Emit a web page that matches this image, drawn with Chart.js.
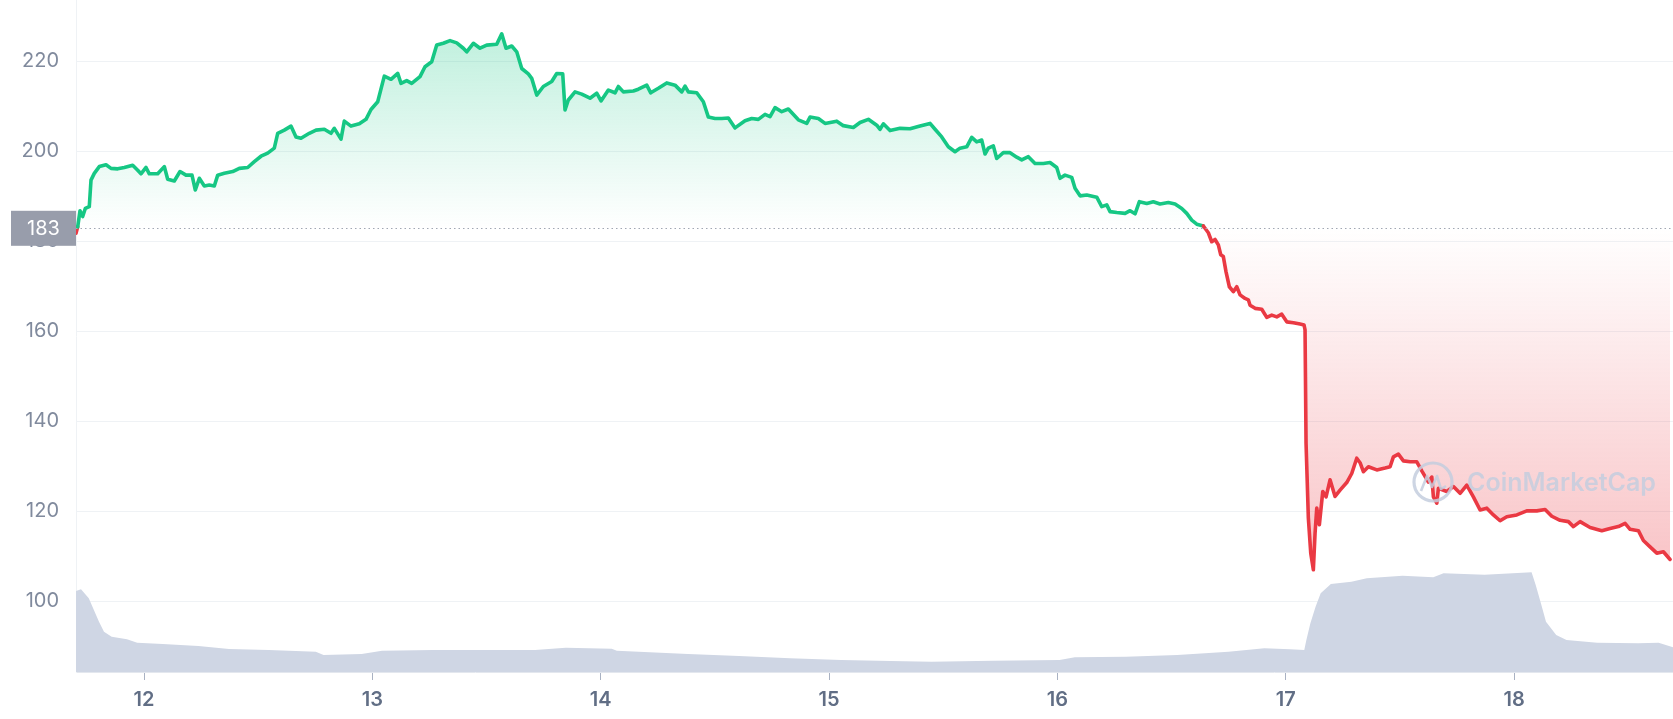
<!DOCTYPE html>
<html>
<head>
<meta charset="utf-8">
<script src="https://cdn.jsdelivr.net/npm/chart.js@4/dist/chart.umd.min.js"></script>
<style>
  html, body { margin: 0; padding: 0; background: #fff; }
  #wrap { width: 1673px; height: 719px; }
</style>
</head>
<body>
<div id="wrap"><canvas id="price" width="1673" height="719"></canvas></div>
<script>
// price, day of month (fractional) and USD
const priceDays = [
  11.7022, 11.7096, 11.7197, 11.7315, 11.7429, 11.7604, 11.7679, 11.7823, 11.8042, 11.8336,
  11.8555, 11.8848, 11.9137, 11.9505, 11.9724, 11.9869, 12.0088, 12.0232, 12.0600, 12.0889,
  12.1038, 12.1327, 12.1577, 12.1839, 12.2102, 12.2247, 12.2422, 12.2641, 12.2860, 12.3079,
  12.3228, 12.3517, 12.3885, 12.4174, 12.4542, 12.4831, 12.5124, 12.5417, 12.5706, 12.5855,
  12.6144, 12.6437, 12.6656, 12.6876, 12.7239, 12.7533, 12.7896, 12.8190, 12.8334, 12.8627,
  12.8772, 12.9065, 12.9429, 12.9722, 12.9941, 13.0235, 13.0524, 13.0817, 13.1111, 13.1255,
  13.1505, 13.1724, 13.2087, 13.2306, 13.2600, 13.2819, 13.3108, 13.3402, 13.3695, 13.3984,
  13.4133, 13.4422, 13.4715, 13.5009, 13.5447, 13.5666, 13.5854, 13.6104, 13.6323, 13.6542,
  13.6831, 13.6980, 13.7199, 13.7488, 13.7856, 13.8075, 13.8337, 13.8438, 13.8583, 13.8876,
  13.9170, 13.9533, 13.9827, 14.0015, 14.0335, 14.0628, 14.0773, 14.0992, 14.1430, 14.1649,
  14.2017, 14.2192, 14.2525, 14.2893, 14.3256, 14.3550, 14.3694, 14.3839, 14.4207, 14.4496,
  14.4715, 14.5008, 14.5301, 14.5590, 14.5884, 14.6321, 14.6615, 14.6904, 14.7197, 14.7416,
  14.7635, 14.7929, 14.8218, 14.8656, 14.9024, 14.9168, 14.9532, 14.9825, 15.0337, 15.0626,
  15.1064, 15.1358, 15.1721, 15.2089, 15.2233, 15.2378, 15.2671, 15.3109, 15.3547, 15.3985,
  15.4423, 15.4642, 15.4935, 15.5224, 15.5517, 15.5737, 15.6030, 15.6249, 15.6468, 15.6687,
  15.6832, 15.6976, 15.7195, 15.7344, 15.7633, 15.7927, 15.8220, 15.8439, 15.8728, 15.9021,
  15.9385, 15.9678, 15.9972, 16.0116, 16.0335, 16.0629, 16.0773, 16.0992, 16.1286, 16.1724,
  16.1943, 16.2162, 16.2307, 16.2600, 16.2964, 16.3183, 16.3402, 16.3591, 16.3913, 16.4202,
  16.4496, 16.4859, 16.5153, 16.5446, 16.5665, 16.5884, 16.6103, 16.6392, 16.6611, 16.6760,
  16.6905, 16.7049, 16.7154, 16.7268, 16.7386, 16.7531, 16.7706, 16.7855, 16.8000, 16.8219,
  16.8363, 16.8438, 16.8657, 16.8950, 16.9169, 16.9388, 16.9607, 16.9826, 17.0045, 17.0334,
  17.0627, 17.0803, 17.0846, 17.0890, 17.0991, 17.1096, 17.1210, 17.1284, 17.1359, 17.1473,
  17.1622, 17.1766, 17.1941, 17.2160, 17.2379, 17.2672, 17.2891, 17.3110, 17.3255, 17.3401,
  17.3620, 17.3988, 17.4351, 17.4570, 17.4715, 17.4934, 17.5153, 17.5446, 17.5740, 17.5959,
  17.6248, 17.6397, 17.6467, 17.6616, 17.6686, 17.7054, 17.7343, 17.7636, 17.7929, 17.8218,
  17.8512, 17.8805, 17.9094, 17.9387, 17.9681, 18.0119, 18.0557, 18.0995, 18.1358, 18.1652,
  18.2015, 18.2379, 18.2598, 18.2891, 18.3329, 18.3841, 18.4205, 18.4568, 18.4862, 18.5081,
  18.5444, 18.5663, 18.5957, 18.6250, 18.6539, 18.6833
];
const prices = [
  181.8, 183.2, 186.8, 185.5, 187.3, 187.7, 193.6, 195.1, 196.6, 197.0,
  196.2, 196.1, 196.4, 196.9, 195.8, 195.0, 196.4, 195.0, 195.0, 196.6,
  193.8, 193.4, 195.5, 194.7, 194.7, 191.4, 194.0, 192.3, 192.5, 192.3,
  194.7, 195.1, 195.5, 196.2, 196.4, 197.7, 198.9, 199.6, 200.7, 204.0,
  204.7, 205.6, 203.2, 202.9, 204.0, 204.7, 204.9, 204.0, 205.1, 202.7,
  206.7, 205.6, 206.1, 207.1, 209.3, 211.0, 216.7, 216.0, 217.3, 215.1,
  215.7, 215.1, 216.6, 218.8, 219.9, 223.6, 224.0, 224.6, 224.1, 222.9,
  222.1, 224.0, 222.9, 223.6, 223.8, 226.1, 222.9, 223.4, 222.1, 218.4,
  217.2, 216.2, 212.5, 214.4, 215.5, 217.3, 217.2, 209.2, 211.4, 213.2,
  212.7, 211.8, 212.9, 211.2, 213.6, 213.0, 214.4, 213.2, 213.4, 213.8,
  214.7, 213.0, 214.0, 215.2, 214.7, 213.2, 214.5, 213.2, 213.0, 211.0,
  207.6, 207.3, 207.3, 207.4, 205.2, 206.8, 207.3, 207.1, 208.2, 207.7,
  209.7, 208.8, 209.4, 207.0, 206.2, 207.6, 207.3, 206.2, 206.7, 205.7,
  205.3, 206.4, 207.1, 205.8, 204.9, 206.1, 204.6, 205.1, 205.0, 205.6,
  206.2, 204.9, 203.2, 201.0, 199.9, 200.7, 201.0, 203.1, 202.1, 202.5,
  199.4, 200.7, 201.2, 198.4, 199.7, 199.7, 198.7, 198.1, 198.8, 197.3,
  197.3, 197.5, 196.4, 194.0, 194.7, 194.2, 191.8, 190.1, 190.3, 189.8,
  187.7, 188.1, 186.6, 186.4, 186.2, 186.8, 186.1, 188.8, 188.4, 188.8,
  188.3, 188.6, 188.3, 187.3, 186.2, 184.7, 183.8, 183.4, 181.9, 179.9,
  180.4, 179.2, 177.0, 176.6, 173.2, 169.9, 168.8, 169.9, 168.1, 167.3,
  167.0, 165.8, 165.1, 164.9, 163.1, 163.6, 163.2, 163.8, 162.1, 161.9,
  161.6, 161.4, 160.3, 135.1, 118.5, 110.7, 107.0, 115.1, 120.7, 117.0,
  124.4, 123.2, 127.0, 123.3, 124.7, 126.4, 128.4, 131.8, 130.8, 128.8,
  129.9, 129.2, 129.6, 129.9, 132.1, 132.7, 131.2, 131.0, 131.0, 129.0,
  126.5, 127.6, 123.2, 121.8, 125.1, 124.4, 125.5, 124.0, 125.8, 123.2,
  120.3, 120.7, 119.2, 117.9, 118.8, 119.2, 120.1, 120.1, 120.4, 118.9,
  118.0, 117.7, 116.6, 117.7, 116.4, 115.7, 116.2, 116.6, 117.3, 116.0,
  115.7, 113.5, 112.1, 110.7, 111.0, 109.3
];

// volume, million USD
const volumeDays = [
  11.7022, 11.7241, 11.7582, 11.7805, 11.8029, 11.8248, 11.8585, 11.9255, 11.9702, 12.0819,
  12.2382, 12.3722, 12.5456, 12.7524, 12.7862, 12.9534, 13.0423, 13.2657, 13.4890, 13.7124,
  13.8473, 14.0483, 14.0706, 14.3825, 14.6058, 14.8292, 15.0526, 15.2694, 15.4485, 15.7178,
  16.0096, 16.0766, 16.2998, 16.5250, 16.7493, 16.9065, 17.0186, 17.0812, 17.0904, 17.1080,
  17.1307, 17.1531, 17.1977, 17.2875, 17.3550, 17.5118, 17.6462, 17.6913, 17.8705, 18.0767,
  18.0947, 18.1175, 18.1398, 18.1845, 18.2296, 18.3641, 18.5432, 18.6330, 18.6963
];
const volumes = [
  810, 827, 737, 620, 503, 403, 353, 327, 293, 280,
  260, 230, 220, 203, 170, 180, 213, 220, 220, 220,
  243, 233, 213, 180, 160, 137, 120, 110, 103, 113,
  120, 147, 153, 170, 203, 237, 227, 220, 320, 487,
  653, 787, 880, 903, 937, 963, 947, 987, 973, 997,
  870, 687, 503, 370, 320, 293, 287, 293, 247
];

const openPrice = 183;
const dayTicks = [12, 13, 14, 15, 16, 17, 18];
const priceTicks = [100, 120, 140, 160, 180, 200, 220];

const green = '#16c784';
const red = '#ea3943';

const pricePoints = priceDays.map((d, i) => ({ x: d, y: prices[i] }));
const volumePoints = volumeDays.map((d, i) => ({ x: d, y: volumes[i] }));

function fillGradient(ctx) {
  const chart = ctx.chart;
  const area = chart.chartArea;
  if (!area) return 'transparent';
  const y = chart.scales.y;
  const h = area.bottom - area.top;
  const f = v => Math.min(1, Math.max(0, (y.getPixelForValue(v) - area.top) / h));
  const g = chart.ctx.createLinearGradient(0, area.top, 0, area.bottom);
  g.addColorStop(0, 'rgba(22,199,132,0.30)');
  g.addColorStop(f(226), 'rgba(22,199,132,0.27)');
  g.addColorStop(f(openPrice), 'rgba(22,199,132,0.0)');
  g.addColorStop(f(openPrice), 'rgba(234,57,67,0.0)');
  g.addColorStop(f(107), 'rgba(234,57,67,0.30)');
  g.addColorStop(1, 'rgba(234,57,67,0.30)');
  return g;
}

const overlay = {
  id: 'overlay',
  afterDatasetsDraw(chart) {
    const { ctx, chartArea, scales } = chart;
    const py = Math.round(scales.y.getPixelForValue(openPrice)) + 0.5;
    ctx.save();
    ctx.strokeStyle = '#a1a7b3';
    ctx.lineWidth = 1;
    ctx.setLineDash([1.5, 3]);
    ctx.beginPath();
    ctx.moveTo(chartArea.left, py);
    ctx.lineTo(chartArea.right, py);
    ctx.stroke();
    ctx.setLineDash([]);

    // watermark
    const cx = 1433, cy = 482;
    ctx.strokeStyle = 'rgba(196,206,222,0.85)';
    ctx.fillStyle = 'rgba(196,206,222,0.85)';
    ctx.lineWidth = 3.2;
    ctx.beginPath();
    ctx.arc(cx, cy, 19, 0, Math.PI * 2);
    ctx.stroke();
    ctx.lineWidth = 2.6;
    ctx.lineJoin = 'round';
    ctx.beginPath();
    ctx.moveTo(cx - 12, cy + 9);
    ctx.lineTo(cx - 6, cy - 6);
    ctx.lineTo(cx - 1, cy + 5);
    ctx.lineTo(cx + 4, cy - 6);
    ctx.lineTo(cx + 8, cy + 7);
    ctx.lineTo(cx + 13, cy + 4);
    ctx.stroke();
    ctx.font = '600 25px Inter';
    ctx.textBaseline = 'middle';
    ctx.textAlign = 'left';
    ctx.fillText('CoinMarketCap', cx + 34, cy + 1);
    ctx.restore();
  },
  afterDraw(chart) {
    const { ctx, chartArea, scales } = chart;
    const py = scales.y.getPixelForValue(openPrice);
    ctx.save();
    ctx.fillStyle = '#989dab';
    ctx.fillRect(11, py - 17, chartArea.left - 11, 35);
    ctx.fillStyle = '#ffffff';
    ctx.font = '20px Inter';
    ctx.textAlign = 'center';
    ctx.textBaseline = 'middle';
    ctx.fillText(String(openPrice), (11 + chartArea.left) / 2, py + 1);
    ctx.restore();
  }
};

new Chart(document.getElementById('price'), {
  type: 'line',
  data: {
    datasets: [{
      data: pricePoints,
      yAxisID: 'y',
      order: 0,
      borderWidth: 3.6,
      borderColor: green,
      borderJoinStyle: 'round',
      borderCapStyle: 'round',
      pointRadius: 0,
      tension: 0,
      fill: { value: openPrice },
      backgroundColor: fillGradient,
      segment: {
        borderColor: c => ((c.p0.parsed.y + c.p1.parsed.y) / 2 >= openPrice ? green : red)
      }
    }, {
      data: volumePoints,
      yAxisID: 'yVol',
      order: 1,
      borderWidth: 0,
      pointRadius: 0,
      tension: 0,
      fill: 'origin',
      backgroundColor: '#cfd6e4'
    }]
  },
  options: {
    responsive: false,
    animation: false,
    layout: { padding: 0 },
    plugins: {
      legend: { display: false },
      tooltip: { enabled: false }
    },
    scales: {
      x: {
        type: 'linear',
        min: 11.7022,
        max: 18.696,
        afterBuildTicks: s => { s.ticks = dayTicks.map(v => ({ value: v })); },
        afterFit: s => { s.height = 47; s.paddingLeft = 0; s.paddingRight = 0; },
        ticks: {
          color: '#616e85',
          font: { family: 'Inter', size: 20, weight: '600' },
          padding: 8,
          maxRotation: 0,
          callback: v => String(v)
        },
        grid: { drawOnChartArea: false, tickLength: 8, color: '#a9b2c3' },
        border: { color: '#e3e7ee' }
      },
      y: {
        position: 'left',
        min: 84.29,
        max: 233.62,
        afterBuildTicks: s => { s.ticks = priceTicks.map(v => ({ value: v })); },
        afterFit: s => { s.width = 76; s.paddingTop = 0; s.paddingBottom = 0; },
        ticks: {
          color: '#808a9d',
          font: { family: 'Inter', size: 20 },
          padding: 17
        },
        grid: { color: '#eff2f5', drawTicks: false },
        border: { color: '#eff2f5' }
      },
      yVol: {
        display: false,
        min: 0,
        max: 6720
      }
    }
  },
  plugins: [overlay]
});
</script>
</body>
</html>
